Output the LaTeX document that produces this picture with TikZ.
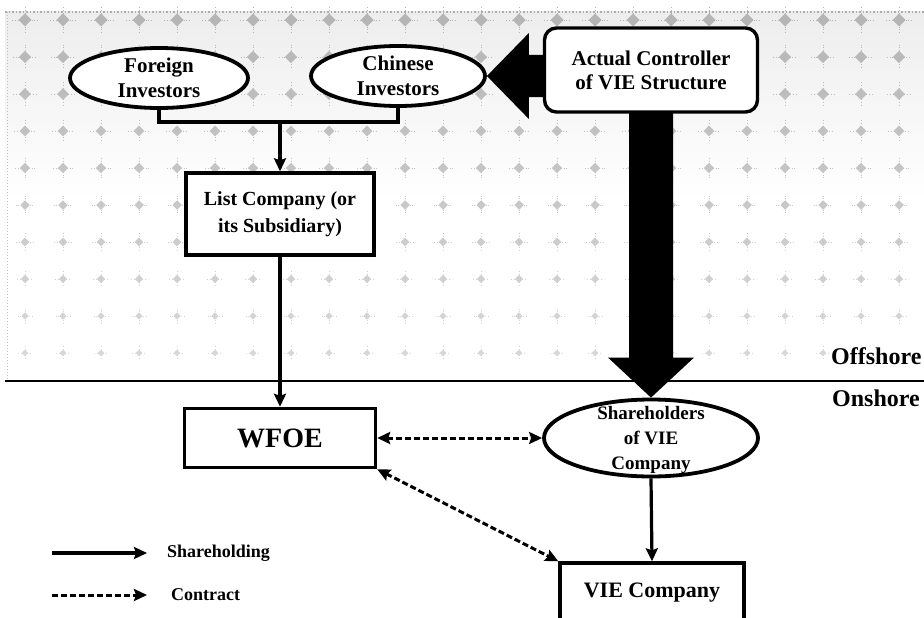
\documentclass[tikz,border=0pt]{standalone}
\usepackage{fontspec}
\setmainfont{Liberation Serif}
\usetikzlibrary{shapes.geometric,arrows.meta,calc}
\begin{document}
\begin{tikzpicture}[x=1pt,y=-1pt,
  >={Stealth[length=13pt,width=12pt,inset=2pt]},
  box/.style={draw, line width=3.4pt, fill=white, align=center, inner sep=0pt},
  oval/.style={ellipse, draw, line width=3.8pt, fill=white, inner sep=0pt},
  lbl/.style={align=center, inner sep=0pt},
  link/.style={line width=3.2pt, ->},
  dashy/.style={line width=3pt, dash pattern=on 6pt off 3pt},
  fatfill/.style={fill=black}
]
\useasboundingbox (0,0) rectangle (924,618);
\clip (0,0) rectangle (924,618);

% offshore background texture
\shade[top color=gray!14, bottom color=white] (5,12) rectangle (924,200);
\foreach \r in {0,...,9}{
  \pgfmathsetmacro{\yy}{20+37*\r}
  \pgfmathsetmacro{\sz}{6.5-0.35*\r}
  \pgfmathtruncatemacro{\sh}{58-3*\r}
  \foreach \c in {0,...,23}{
    \pgfmathsetmacro{\xx}{25+38*\c}
    \fill[gray!\sh] (\xx,\yy) +(-\sz,0) -- +(0,-\sz) -- +(\sz,0) -- +(0,\sz) -- cycle;
    \draw[gray!\sh, line width=0.8pt, dotted] (\xx,\yy) +(0,-2*\sz) -- +(0,2*\sz) (\xx,\yy) +(-2*\sz,0) -- +(2*\sz,0);
  }
}
\draw[gray!65, line width=1.5pt, dotted] (5,12) -- (924,12);
\draw[gray!50, line width=1pt, dotted] (7,12) -- (7,381);

% separator
\draw[line width=2.4pt] (5,381) -- (924,381);
\node[anchor=west, fill=white, inner sep=1pt, font=\bfseries\fontsize{24}{26}\selectfont] (off) at (830,356) {Offshore};
\node[anchor=west, inner sep=1pt, font=\bfseries\fontsize{24}{26}\selectfont] (on) at (831,398) {Onshore};

% nodes
\node[oval, minimum width=178pt, minimum height=60pt,
  label={[lbl, font=\bfseries\fontsize{21}{25}\selectfont]center:Foreign\\Investors}] (fi) at (159,78) {};
\node[oval, minimum width=174pt, minimum height=60pt,
  label={[lbl, font=\bfseries\fontsize{21}{25}\selectfont]center:Chinese\\Investors}] (ci) at (398,76) {};
\node[box, rounded corners=12pt, minimum width=213pt, minimum height=84pt,
  font=\bfseries\fontsize{21}{24}\selectfont] (ac) at (651,70) {Actual Controller\\of VIE Structure};
\node[box, minimum width=188pt, minimum height=82pt,
  font=\bfseries\fontsize{20}{27}\selectfont] (lc) at (280,214) {List Company (or\\its Subsidiary)};
\node[box, minimum width=191pt, minimum height=59pt,
  font=\bfseries\fontsize{28}{30}\selectfont] (wfoe) at (280,438) {WFOE};
\node[oval, minimum width=214pt, minimum height=77pt,
  label={[lbl, yshift=-2pt, font=\bfseries\fontsize{19}{25}\selectfont]center:Shareholders\\of VIE\\Company}] (sh) at (651,438) {};
\node[box, minimum width=184pt, minimum height=60pt,
  font=\bfseries\fontsize{22}{24}\selectfont] (vie) at (652,593) {VIE Company};

% investors fork
\coordinate (j) at (280,122);
\draw[line width=3.2pt] (fi.south) |- (j) -| (ci.south);
\draw[link] (j) -- (lc.north);
\draw[link] (lc.south) -- (wfoe.north);

% fat arrows from actual controller
\coordinate (s1) at (ci.east -| ac.west);
\fill[fatfill] ($(s1)+(2,-21)$) -- ($(ci.east)+(42,-21)$) -- ($(ci.east)+(42,-43)$) -- (ci.east)
  -- ($(ci.east)+(42,43)$) -- ($(ci.east)+(42,21)$) -- ($(s1)+(2,21)$) -- cycle;
\coordinate (vt) at (ac.south |- sh.north);
\fill[fatfill] ($(ac.south)+(-22,-2)$) -- ($(vt)+(-22,-40)$) -- ($(vt)+(-43,-40)$) -- (vt)
  -- ($(vt)+(43,-40)$) -- ($(vt)+(22,-40)$) -- ($(ac.south)+(22,-2)$) -- cycle;

% contracts and shareholding onshore
\draw[dashy, <->] (wfoe.east) -- (sh.west);
\draw[dashy, <->] (wfoe.south east) -- (vie.north west);
\draw[link] (sh.south) -- (vie.north);

% legend
\coordinate (l1a) at (52,553);
\coordinate (l1b) at (147,553);
\draw[link] (l1a) -- (l1b);
\node[anchor=west, inner sep=0pt, font=\bfseries\fontsize{18}{20}\selectfont] (l1t) at (167,553) {Shareholding};
\coordinate (l2a) at (52,595);
\coordinate (l2b) at (147,595);
\draw[dashy, ->] (l2a) -- (l2b);
\node[anchor=west, inner sep=0pt, font=\bfseries\fontsize{18}{20}\selectfont] (l2t) at (171,595) {Contract};
\end{tikzpicture}
\end{document}
